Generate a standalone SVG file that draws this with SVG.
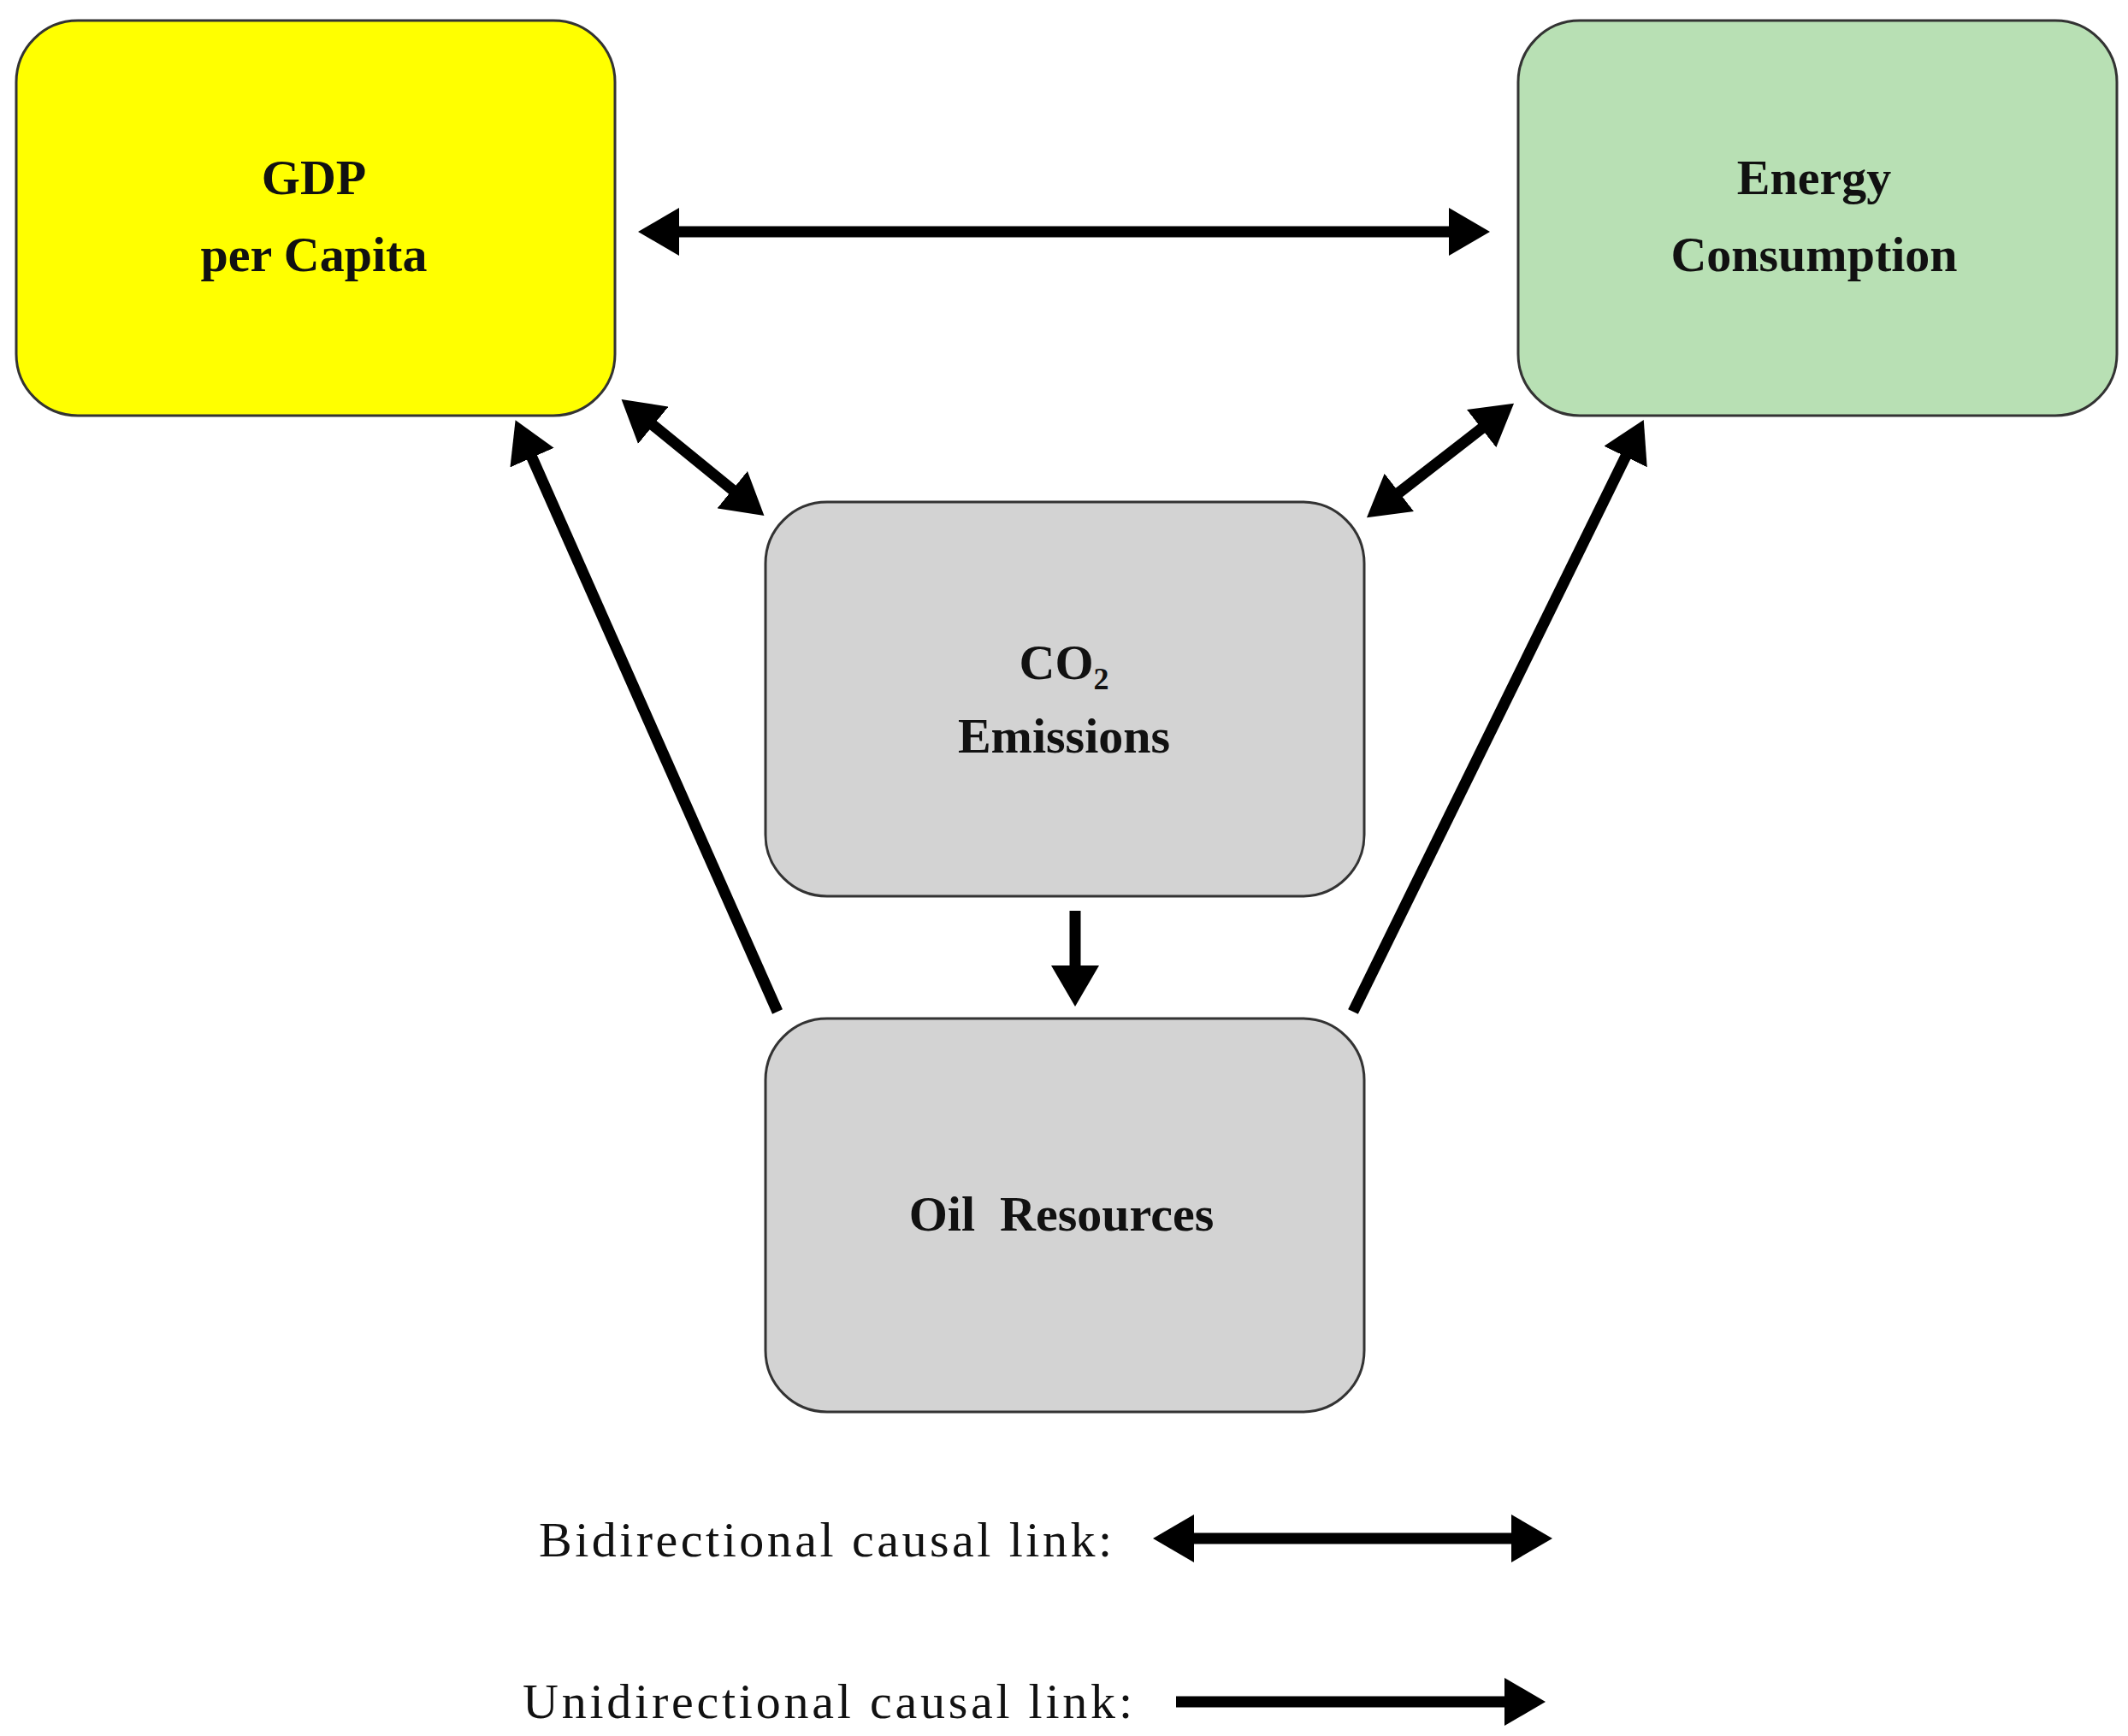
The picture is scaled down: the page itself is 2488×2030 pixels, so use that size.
<svg xmlns="http://www.w3.org/2000/svg" width="2488" height="2030" viewBox="0 0 2488 2030">
<style>
.box{stroke:#333;stroke-width:3}
.t{font-family:"Liberation Serif",serif;font-weight:bold;font-size:58px;text-anchor:middle;fill:#111}
.l{font-family:"Liberation Serif",serif;font-size:58px;fill:#111}
.c line{stroke:#000;stroke-width:13}
</style>
<defs>
<marker id="ah" markerUnits="userSpaceOnUse" markerWidth="48" markerHeight="56" viewBox="0 0 48 56" refX="10" refY="28" orient="auto-start-reverse">
<path d="M0,0 L48,28 L0,56 z" fill="#000"/>
</marker>
</defs>
<rect width="2488" height="2030" fill="#fff"/>
<g id="gdp"><rect class="box" x="19" y="24" width="700" height="462" rx="72" fill="#ffff00"/>
<text class="t" x="367" y="227">GDP</text><text class="t" x="367" y="317">per Capita</text></g>
<g id="energy"><rect class="box" x="1775" y="24" width="700" height="462" rx="72" fill="#b8e0b4"/>
<text class="t" x="2121" y="227">Energy</text><text class="t" x="2121" y="317">Consumption</text></g>
<g id="co2"><rect class="box" x="895" y="587" width="700" height="461" rx="72" fill="#d3d3d3"/>
<text class="t" x="1244" y="794">CO<tspan font-size="36" dy="12">2</tspan></text><text class="t" x="1244" y="880">Emissions</text></g>
<g id="oil"><rect class="box" x="895" y="1191" width="700" height="460" rx="72" fill="#d3d3d3"/>
<text class="t" x="1241" y="1439" xml:space="preserve">Oil  Resources</text></g>
<g class="c">
<line x1="784" y1="271" x2="1704" y2="271" marker-start="url(#ah)" marker-end="url(#ah)"/>
<line x1="756" y1="491" x2="864" y2="579" marker-start="url(#ah)" marker-end="url(#ah)"/>
<line x1="1740" y1="495" x2="1628" y2="582" marker-start="url(#ah)" marker-end="url(#ah)"/>
<line x1="909" y1="1183" x2="618" y2="526" marker-end="url(#ah)"/>
<line x1="1582" y1="1183" x2="1905" y2="525" marker-end="url(#ah)"/>
<line x1="1257" y1="1065" x2="1257" y2="1139" marker-end="url(#ah)"/>
<line x1="1386" y1="1799" x2="1777" y2="1799" marker-start="url(#ah)" marker-end="url(#ah)"/>
<line x1="1375" y1="1990" x2="1769" y2="1990" marker-end="url(#ah)"/>
</g>
<g id="legend">
<text class="l" x="630" y="1820" textLength="670" lengthAdjust="spacing">Bidirectional causal link:</text>
<text class="l" x="611" y="2009" textLength="713" lengthAdjust="spacing">Unidirectional causal link:</text>
</g>
</svg>
